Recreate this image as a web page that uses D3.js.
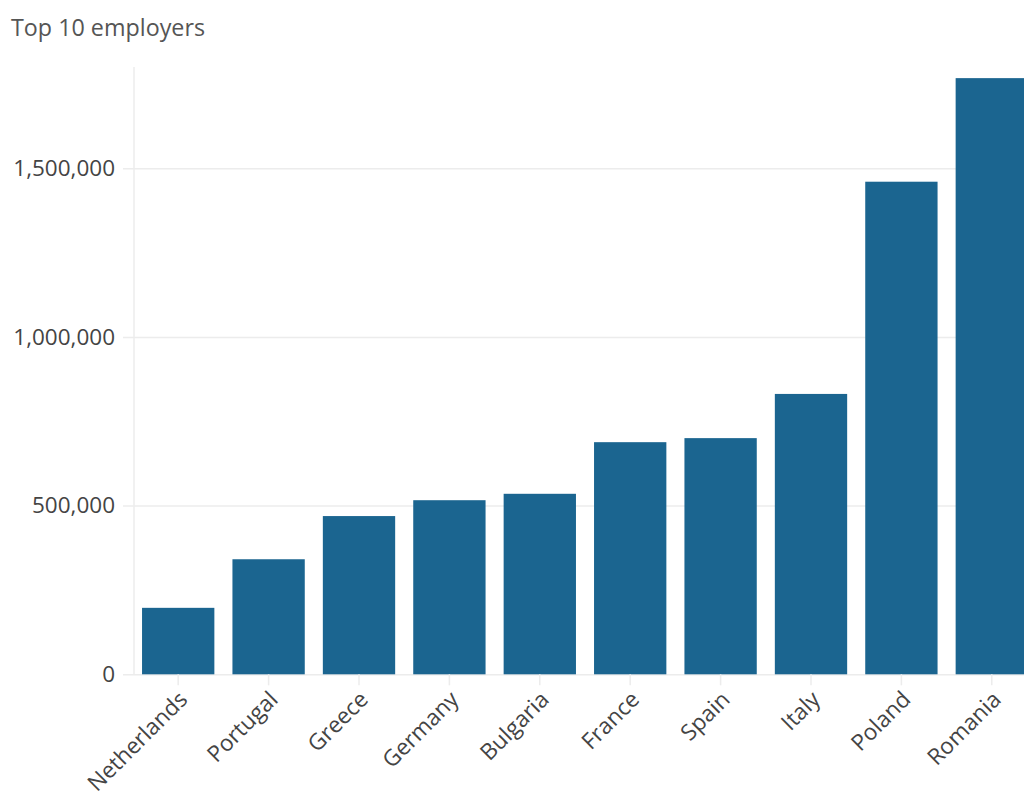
<!DOCTYPE html>
<html><head><meta charset="utf-8">
<script src="https://cdn.jsdelivr.net/npm/d3@7"></script>
<style>
body{margin:0;background:#fff;overflow:hidden;}
svg{display:block;font-family:"Open Sans",sans-serif;}
</style></head>
<body>
<svg id="c" width="1024" height="797"></svg>
<script>
const title = "Top 10 employers";
const countries = ["Netherlands","Portugal","Greece","Germany","Bulgaria","France","Spain","Italy","Poland","Romania"];
const employees = [197000, 341000, 469000, 516000, 535000, 688000, 700000, 831000, 1460000, 1767000];
const yTicks = [0, 500000, 1000000, 1500000];

const svg = d3.select("#c");
const x0 = 133, x1 = 1037, yTop = 67, yBase = 674.3;
const fs = 22.5;

const x = d3.scaleBand().domain(countries).range([x0, x1]).paddingInner(0.2).paddingOuter(0.1);
const y = d3.scaleLinear().domain([0, 1800000]).range([yBase, yTop]);

svg.append("text").attr("x", 11).attr("y", 36).attr("fill", "#555").attr("font-size", 23.3).text(title);

// gridlines
const yAxis = d3.axisLeft(y).tickValues(yTicks).tickFormat(d3.format(",")).tickSize(-(x1 - 123)).tickPadding(8);
const gy = svg.append("g").attr("transform", `translate(123,0)`).call(yAxis);
gy.select(".domain").remove();
gy.selectAll(".tick line").attr("stroke", "#ececec").attr("stroke-width", 1.5);
gy.selectAll(".tick text").attr("fill", "#444").attr("font-size", fs).attr("font-family", "Open Sans, sans-serif");

// y axis vertical line
svg.append("line").attr("x1", 134).attr("x2", 134).attr("y1", yTop).attr("y2", yBase)
  .attr("stroke", "#ececec").attr("stroke-width", 1.5);

// bars
svg.append("g").selectAll("rect").data(countries).join("rect")
  .attr("x", d => x(d)).attr("width", x.bandwidth())
  .attr("y", (d, i) => y(employees[i])).attr("height", (d, i) => yBase - y(employees[i]))
  .attr("fill", "#1b6590");

// x axis
const xAxis = d3.axisBottom(x).tickSize(11).tickPadding(6);
const gx = svg.append("g").attr("transform", `translate(0,${yBase})`).call(xAxis);
gx.select(".domain").remove();
gx.selectAll(".tick line").attr("stroke", "#ececec").attr("stroke-width", 1.5);
gx.selectAll(".tick text").attr("fill", "#444").attr("font-size", fs).attr("font-family", "Open Sans, sans-serif")
  .attr("text-anchor", "end").attr("x", 0).attr("y", 0).attr("dy", "0.35em")
  .attr("transform", "translate(5,21) rotate(-45)");
</script>
</body></html>
